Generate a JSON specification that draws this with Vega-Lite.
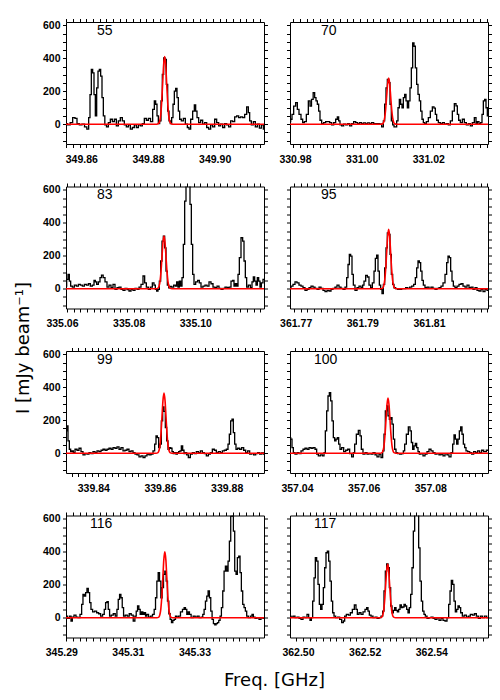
{
"$schema":"https://vega.github.io/schema/vega-lite/v6.json",
"background":"white",
"padding":{"left":13,"top":17,"right":5,"bottom":5},
"columns":2,
"spacing":{"row":42.5,"column":26},
"bounds":"flush",
"datasets":{
"obs":[
{"p":55,"f":349.8539,"v":4},{"p":55,"f":349.8548,"v":-4},{"p":55,"f":349.8555,"v":10},{"p":55,"f":349.8563,"v":40},{"p":55,"f":349.8569,"v":36},{"p":55,"f":349.8575,"v":4},{"p":55,"f":349.8583,"v":-4},{"p":55,"f":349.8591,"v":0},{"p":55,"f":349.8598,"v":-16},{"p":55,"f":349.8605,"v":-30},{"p":55,"f":349.8609,"v":40},{"p":55,"f":349.8613,"v":180},{"p":55,"f":349.8617,"v":332},{"p":55,"f":349.8621,"v":312},{"p":55,"f":349.8625,"v":180},{"p":55,"f":349.8629,"v":50},{"p":55,"f":349.8633,"v":221},{"p":55,"f":349.8637,"v":322},{"p":55,"f":349.8641,"v":332},{"p":55,"f":349.8645,"v":292},{"p":55,"f":349.8649,"v":161},{"p":55,"f":349.8653,"v":50},{"p":55,"f":349.8658,"v":-4},{"p":55,"f":349.8663,"v":-16},{"p":55,"f":349.8669,"v":10},{"p":55,"f":349.8675,"v":30},{"p":55,"f":349.8681,"v":16},{"p":55,"f":349.8687,"v":30},{"p":55,"f":349.8693,"v":-10},{"p":55,"f":349.8699,"v":20},{"p":55,"f":349.8705,"v":40},{"p":55,"f":349.8711,"v":20},{"p":55,"f":349.8717,"v":-4},{"p":55,"f":349.8723,"v":-16},{"p":55,"f":349.8729,"v":-4},{"p":55,"f":349.8735,"v":-30},{"p":55,"f":349.8741,"v":-20},{"p":55,"f":349.8747,"v":-4},{"p":55,"f":349.8753,"v":-20},{"p":55,"f":349.8759,"v":-4},{"p":55,"f":349.8765,"v":-10},{"p":55,"f":349.8771,"v":4},{"p":55,"f":349.8777,"v":36},{"p":55,"f":349.8783,"v":24},{"p":55,"f":349.8789,"v":36},{"p":55,"f":349.8796,"v":16},{"p":55,"f":349.8802,"v":90},{"p":55,"f":349.8806,"v":141},{"p":55,"f":349.881,"v":121},{"p":55,"f":349.8814,"v":50},{"p":55,"f":349.8818,"v":4},{"p":55,"f":349.8822,"v":20},{"p":55,"f":349.8826,"v":141},{"p":55,"f":349.883,"v":302},{"p":55,"f":349.8834,"v":403},{"p":55,"f":349.8838,"v":393},{"p":55,"f":349.8842,"v":242},{"p":55,"f":349.8846,"v":80},{"p":55,"f":349.885,"v":20},{"p":55,"f":349.8854,"v":4},{"p":55,"f":349.8858,"v":40},{"p":55,"f":349.8862,"v":121},{"p":55,"f":349.8866,"v":201},{"p":55,"f":349.887,"v":217},{"p":55,"f":349.8874,"v":161},{"p":55,"f":349.8878,"v":80},{"p":55,"f":349.8882,"v":30},{"p":55,"f":349.8888,"v":20},{"p":55,"f":349.8894,"v":36},{"p":55,"f":349.89,"v":0},{"p":55,"f":349.8906,"v":-20},{"p":55,"f":349.891,"v":-30},{"p":55,"f":349.8916,"v":30},{"p":55,"f":349.8922,"v":80},{"p":55,"f":349.8926,"v":117},{"p":55,"f":349.893,"v":80},{"p":55,"f":349.8934,"v":40},{"p":55,"f":349.894,"v":10},{"p":55,"f":349.8946,"v":24},{"p":55,"f":349.8952,"v":0},{"p":55,"f":349.8958,"v":10},{"p":55,"f":349.8964,"v":-20},{"p":55,"f":349.897,"v":-30},{"p":55,"f":349.8976,"v":-4},{"p":55,"f":349.8982,"v":-16},{"p":55,"f":349.8988,"v":30},{"p":55,"f":349.8994,"v":10},{"p":55,"f":349.9,"v":-10},{"p":55,"f":349.9006,"v":0},{"p":55,"f":349.9012,"v":-20},{"p":55,"f":349.9018,"v":4},{"p":55,"f":349.9024,"v":-4},{"p":55,"f":349.903,"v":-16},{"p":55,"f":349.9036,"v":20},{"p":55,"f":349.9042,"v":16},{"p":55,"f":349.9048,"v":44},{"p":55,"f":349.9054,"v":50},{"p":55,"f":349.906,"v":40},{"p":55,"f":349.9066,"v":44},{"p":55,"f":349.9072,"v":40},{"p":55,"f":349.9078,"v":60},{"p":55,"f":349.9084,"v":105},{"p":55,"f":349.9088,"v":70},{"p":55,"f":349.9092,"v":20},{"p":55,"f":349.9098,"v":-4},{"p":55,"f":349.9104,"v":16},{"p":55,"f":349.911,"v":-16},{"p":55,"f":349.9116,"v":0},{"p":55,"f":349.9122,"v":-24},{"p":55,"f":349.9128,"v":-4},{"p":55,"f":349.9134,"v":-30},
{"p":70,"f":330.977,"v":16},{"p":70,"f":330.9774,"v":30},{"p":70,"f":330.9778,"v":60},{"p":70,"f":330.9784,"v":110},{"p":70,"f":330.979,"v":131},{"p":70,"f":330.9794,"v":90},{"p":70,"f":330.98,"v":60},{"p":70,"f":330.9806,"v":30},{"p":70,"f":330.981,"v":10},{"p":70,"f":330.9816,"v":16},{"p":70,"f":330.9822,"v":60},{"p":70,"f":330.9828,"v":141},{"p":70,"f":330.9832,"v":110},{"p":70,"f":330.9837,"v":151},{"p":70,"f":330.9842,"v":191},{"p":70,"f":330.9846,"v":161},{"p":70,"f":330.985,"v":141},{"p":70,"f":330.9854,"v":121},{"p":70,"f":330.9858,"v":80},{"p":70,"f":330.9862,"v":24},{"p":70,"f":330.9868,"v":4},{"p":70,"f":330.9874,"v":10},{"p":70,"f":330.988,"v":16},{"p":70,"f":330.9886,"v":16},{"p":70,"f":330.9892,"v":10},{"p":70,"f":330.9898,"v":-4},{"p":70,"f":330.9904,"v":10},{"p":70,"f":330.991,"v":30},{"p":70,"f":330.9914,"v":44},{"p":70,"f":330.9918,"v":20},{"p":70,"f":330.9922,"v":-4},{"p":70,"f":330.9928,"v":-10},{"p":70,"f":330.9934,"v":0},{"p":70,"f":330.994,"v":-4},{"p":70,"f":330.9946,"v":4},{"p":70,"f":330.9952,"v":-10},{"p":70,"f":330.9958,"v":4},{"p":70,"f":330.9964,"v":16},{"p":70,"f":330.997,"v":10},{"p":70,"f":330.9976,"v":4},{"p":70,"f":330.9982,"v":10},{"p":70,"f":330.9988,"v":4},{"p":70,"f":330.9994,"v":8},{"p":70,"f":331.0,"v":4},{"p":70,"f":331.0006,"v":8},{"p":70,"f":331.0012,"v":4},{"p":70,"f":331.0018,"v":10},{"p":70,"f":331.0024,"v":4},{"p":70,"f":331.003,"v":4},{"p":70,"f":331.0036,"v":4},{"p":70,"f":331.0042,"v":0},{"p":70,"f":331.0048,"v":-16},{"p":70,"f":331.0052,"v":20},{"p":70,"f":331.0056,"v":121},{"p":70,"f":331.006,"v":221},{"p":70,"f":331.0064,"v":272},{"p":70,"f":331.0068,"v":252},{"p":70,"f":331.0072,"v":121},{"p":70,"f":331.0076,"v":20},{"p":70,"f":331.008,"v":-4},{"p":70,"f":331.0084,"v":-16},{"p":70,"f":331.0088,"v":-16},{"p":70,"f":331.0092,"v":20},{"p":70,"f":331.0096,"v":100},{"p":70,"f":331.01,"v":151},{"p":70,"f":331.0104,"v":121},{"p":70,"f":331.0108,"v":100},{"p":70,"f":331.0112,"v":161},{"p":70,"f":331.0116,"v":181},{"p":70,"f":331.012,"v":141},{"p":70,"f":331.0124,"v":100},{"p":70,"f":331.0128,"v":141},{"p":70,"f":331.0132,"v":221},{"p":70,"f":331.0136,"v":342},{"p":70,"f":331.014,"v":493},{"p":70,"f":331.0144,"v":473},{"p":70,"f":331.0148,"v":342},{"p":70,"f":331.0152,"v":242},{"p":70,"f":331.0156,"v":181},{"p":70,"f":331.016,"v":141},{"p":70,"f":331.0164,"v":80},{"p":70,"f":331.0168,"v":30},{"p":70,"f":331.0172,"v":10},{"p":70,"f":331.0176,"v":4},{"p":70,"f":331.0182,"v":16},{"p":70,"f":331.0188,"v":40},{"p":70,"f":331.0194,"v":80},{"p":70,"f":331.02,"v":105},{"p":70,"f":331.0204,"v":97},{"p":70,"f":331.0208,"v":60},{"p":70,"f":331.0212,"v":24},{"p":70,"f":331.0218,"v":10},{"p":70,"f":331.0224,"v":4},{"p":70,"f":331.023,"v":10},{"p":70,"f":331.0236,"v":0},{"p":70,"f":331.0242,"v":4},{"p":70,"f":331.0248,"v":-4},{"p":70,"f":331.0254,"v":20},{"p":70,"f":331.026,"v":80},{"p":70,"f":331.0266,"v":125},{"p":70,"f":331.027,"v":111},{"p":70,"f":331.0274,"v":60},{"p":70,"f":331.0278,"v":24},{"p":70,"f":331.0284,"v":10},{"p":70,"f":331.029,"v":30},{"p":70,"f":331.0296,"v":10},{"p":70,"f":331.0302,"v":-4},{"p":70,"f":331.0308,"v":4},{"p":70,"f":331.0314,"v":-10},{"p":70,"f":331.032,"v":10},{"p":70,"f":331.0326,"v":40},{"p":70,"f":331.033,"v":4},{"p":70,"f":331.0334,"v":16},{"p":70,"f":331.034,"v":4},{"p":70,"f":331.0344,"v":10},{"p":70,"f":331.0348,"v":60},{"p":70,"f":331.0352,"v":141},{"p":70,"f":331.0356,"v":151},{"p":70,"f":331.036,"v":100},{"p":70,"f":331.0364,"v":50},
{"p":83,"f":335.0597,"v":16},{"p":83,"f":335.0601,"v":57},{"p":83,"f":335.0605,"v":87},{"p":83,"f":335.0609,"v":46},{"p":83,"f":335.0613,"v":16},{"p":83,"f":335.0619,"v":10},{"p":83,"f":335.0625,"v":22},{"p":83,"f":335.0631,"v":16},{"p":83,"f":335.0637,"v":26},{"p":83,"f":335.0643,"v":22},{"p":83,"f":335.0649,"v":16},{"p":83,"f":335.0655,"v":26},{"p":83,"f":335.0661,"v":22},{"p":83,"f":335.0667,"v":30},{"p":83,"f":335.0673,"v":16},{"p":83,"f":335.0679,"v":22},{"p":83,"f":335.0683,"v":50},{"p":83,"f":335.0687,"v":42},{"p":83,"f":335.0691,"v":26},{"p":83,"f":335.0697,"v":42},{"p":83,"f":335.0701,"v":67},{"p":83,"f":335.0706,"v":83},{"p":83,"f":335.0711,"v":67},{"p":83,"f":335.0717,"v":42},{"p":83,"f":335.0723,"v":10},{"p":83,"f":335.0729,"v":22},{"p":83,"f":335.0735,"v":6},{"p":83,"f":335.0741,"v":26},{"p":83,"f":335.0747,"v":-4},{"p":83,"f":335.0753,"v":6},{"p":83,"f":335.0759,"v":10},{"p":83,"f":335.0765,"v":-4},{"p":83,"f":335.0771,"v":-10},{"p":83,"f":335.0777,"v":2},{"p":83,"f":335.0783,"v":-6},{"p":83,"f":335.0789,"v":-14},{"p":83,"f":335.0795,"v":-4},{"p":83,"f":335.0801,"v":-10},{"p":83,"f":335.0807,"v":2},{"p":83,"f":335.0813,"v":-4},{"p":83,"f":335.0819,"v":10},{"p":83,"f":335.0825,"v":26},{"p":83,"f":335.0831,"v":77},{"p":83,"f":335.0835,"v":36},{"p":83,"f":335.0841,"v":10},{"p":83,"f":335.0847,"v":-4},{"p":83,"f":335.0853,"v":10},{"p":83,"f":335.0859,"v":36},{"p":83,"f":335.0863,"v":22},{"p":83,"f":335.0867,"v":-4},{"p":83,"f":335.0871,"v":-14},{"p":83,"f":335.0875,"v":-4},{"p":83,"f":335.0879,"v":46},{"p":83,"f":335.0883,"v":168},{"p":83,"f":335.0887,"v":289},{"p":83,"f":335.0891,"v":319},{"p":83,"f":335.0895,"v":248},{"p":83,"f":335.0899,"v":107},{"p":83,"f":335.0903,"v":22},{"p":83,"f":335.0907,"v":6},{"p":83,"f":335.0911,"v":14},{"p":83,"f":335.0917,"v":10},{"p":83,"f":335.0923,"v":22},{"p":83,"f":335.0927,"v":16},{"p":83,"f":335.0931,"v":42},{"p":83,"f":335.0935,"v":10},{"p":83,"f":335.0939,"v":46},{"p":83,"f":335.0943,"v":16},{"p":83,"f":335.0947,"v":67},{"p":83,"f":335.0951,"v":269},{"p":83,"f":335.0955,"v":531},{"p":83,"f":335.0959,"v":900},{"p":83,"f":335.0963,"v":900},{"p":83,"f":335.0967,"v":900},{"p":83,"f":335.0971,"v":511},{"p":83,"f":335.0975,"v":269},{"p":83,"f":335.0979,"v":87},{"p":83,"f":335.0983,"v":26},{"p":83,"f":335.0989,"v":42},{"p":83,"f":335.0995,"v":50},{"p":83,"f":335.0999,"v":36},{"p":83,"f":335.1005,"v":10},{"p":83,"f":335.1011,"v":16},{"p":83,"f":335.1017,"v":22},{"p":83,"f":335.1023,"v":16},{"p":83,"f":335.1029,"v":42},{"p":83,"f":335.1035,"v":30},{"p":83,"f":335.1041,"v":10},{"p":83,"f":335.1047,"v":6},{"p":83,"f":335.1053,"v":16},{"p":83,"f":335.1059,"v":2},{"p":83,"f":335.1065,"v":-4},{"p":83,"f":335.1071,"v":2},{"p":83,"f":335.1077,"v":10},{"p":83,"f":335.1083,"v":6},{"p":83,"f":335.1089,"v":10},{"p":83,"f":335.1095,"v":46},{"p":83,"f":335.1099,"v":50},{"p":83,"f":335.1103,"v":16},{"p":83,"f":335.1107,"v":30},{"p":83,"f":335.1111,"v":16},{"p":83,"f":335.1115,"v":87},{"p":83,"f":335.1119,"v":188},{"p":83,"f":335.1125,"v":309},{"p":83,"f":335.1129,"v":289},{"p":83,"f":335.1133,"v":168},{"p":83,"f":335.1137,"v":67},{"p":83,"f":335.1141,"v":10},{"p":83,"f":335.1147,"v":22},{"p":83,"f":335.1153,"v":6},{"p":83,"f":335.1157,"v":42},{"p":83,"f":335.1161,"v":71},{"p":83,"f":335.1165,"v":46},{"p":83,"f":335.1169,"v":22},{"p":83,"f":335.1173,"v":67},{"p":83,"f":335.1177,"v":46},{"p":83,"f":335.1181,"v":10},{"p":83,"f":335.1185,"v":36},{"p":83,"f":335.1191,"v":57},
{"p":95,"f":361.7668,"v":6},{"p":95,"f":361.7674,"v":16},{"p":95,"f":361.768,"v":26},{"p":95,"f":361.7686,"v":42},{"p":95,"f":361.7692,"v":36},{"p":95,"f":361.7698,"v":22},{"p":95,"f":361.7704,"v":16},{"p":95,"f":361.771,"v":6},{"p":95,"f":361.7716,"v":-10},{"p":95,"f":361.7722,"v":-4},{"p":95,"f":361.7728,"v":6},{"p":95,"f":361.7734,"v":16},{"p":95,"f":361.774,"v":10},{"p":95,"f":361.7746,"v":2},{"p":95,"f":361.7752,"v":-4},{"p":95,"f":361.7758,"v":10},{"p":95,"f":361.7764,"v":2},{"p":95,"f":361.777,"v":-10},{"p":95,"f":361.7776,"v":-18},{"p":95,"f":361.7782,"v":-10},{"p":95,"f":361.7788,"v":-14},{"p":95,"f":361.7794,"v":-4},{"p":95,"f":361.78,"v":2},{"p":95,"f":361.7806,"v":10},{"p":95,"f":361.7812,"v":22},{"p":95,"f":361.7818,"v":10},{"p":95,"f":361.7824,"v":2},{"p":95,"f":361.783,"v":-4},{"p":95,"f":361.7836,"v":10},{"p":95,"f":361.784,"v":67},{"p":95,"f":361.7844,"v":147},{"p":95,"f":361.7848,"v":208},{"p":95,"f":361.7852,"v":198},{"p":95,"f":361.7856,"v":87},{"p":95,"f":361.786,"v":22},{"p":95,"f":361.7866,"v":-10},{"p":95,"f":361.7872,"v":6},{"p":95,"f":361.7878,"v":16},{"p":95,"f":361.7884,"v":6},{"p":95,"f":361.7888,"v":22},{"p":95,"f":361.7892,"v":46},{"p":95,"f":361.7898,"v":81},{"p":95,"f":361.7902,"v":71},{"p":95,"f":361.7908,"v":22},{"p":95,"f":361.7912,"v":6},{"p":95,"f":361.7918,"v":36},{"p":95,"f":361.7922,"v":107},{"p":95,"f":361.7926,"v":184},{"p":95,"f":361.793,"v":204},{"p":95,"f":361.7934,"v":107},{"p":95,"f":361.7938,"v":22},{"p":95,"f":361.7942,"v":-4},{"p":95,"f":361.7946,"v":-30},{"p":95,"f":361.795,"v":26},{"p":95,"f":361.7954,"v":127},{"p":95,"f":361.7958,"v":248},{"p":95,"f":361.7962,"v":339},{"p":95,"f":361.7966,"v":329},{"p":95,"f":361.797,"v":208},{"p":95,"f":361.7974,"v":87},{"p":95,"f":361.7978,"v":26},{"p":95,"f":361.7982,"v":6},{"p":95,"f":361.7988,"v":0},{"p":95,"f":361.7994,"v":-4},{"p":95,"f":361.8,"v":-4},{"p":95,"f":361.8006,"v":0},{"p":95,"f":361.8012,"v":0},{"p":95,"f":361.8018,"v":6},{"p":95,"f":361.8024,"v":2},{"p":95,"f":361.803,"v":10},{"p":95,"f":361.8036,"v":16},{"p":95,"f":361.8042,"v":26},{"p":95,"f":361.8046,"v":67},{"p":95,"f":361.805,"v":127},{"p":95,"f":361.8054,"v":168},{"p":95,"f":361.8058,"v":158},{"p":95,"f":361.8062,"v":107},{"p":95,"f":361.8066,"v":50},{"p":95,"f":361.807,"v":22},{"p":95,"f":361.8076,"v":6},{"p":95,"f":361.8082,"v":10},{"p":95,"f":361.8088,"v":2},{"p":95,"f":361.8094,"v":10},{"p":95,"f":361.81,"v":2},{"p":95,"f":361.8106,"v":-4},{"p":95,"f":361.8112,"v":2},{"p":95,"f":361.8118,"v":6},{"p":95,"f":361.8124,"v":16},{"p":95,"f":361.813,"v":36},{"p":95,"f":361.8136,"v":87},{"p":95,"f":361.814,"v":158},{"p":95,"f":361.8144,"v":198},{"p":95,"f":361.8148,"v":188},{"p":95,"f":361.8152,"v":107},{"p":95,"f":361.8156,"v":46},{"p":95,"f":361.816,"v":16},{"p":95,"f":361.8166,"v":6},{"p":95,"f":361.8172,"v":16},{"p":95,"f":361.8178,"v":26},{"p":95,"f":361.8184,"v":30},{"p":95,"f":361.819,"v":16},{"p":95,"f":361.8196,"v":10},{"p":95,"f":361.8202,"v":22},{"p":95,"f":361.8208,"v":6},{"p":95,"f":361.8214,"v":10},{"p":95,"f":361.822,"v":-4},{"p":95,"f":361.8226,"v":6},{"p":95,"f":361.8232,"v":-10},{"p":95,"f":361.8238,"v":-14},{"p":95,"f":361.8244,"v":-4},{"p":95,"f":361.825,"v":-18},{"p":95,"f":361.8256,"v":-4},{"p":95,"f":361.8262,"v":-10},
{"p":99,"f":339.8303,"v":135},{"p":99,"f":339.8307,"v":166},{"p":99,"f":339.8311,"v":75},{"p":99,"f":339.8315,"v":24},{"p":99,"f":339.8319,"v":10},{"p":99,"f":339.8323,"v":14},{"p":99,"f":339.8327,"v":4},{"p":99,"f":339.8333,"v":24},{"p":99,"f":339.8339,"v":18},{"p":99,"f":339.8345,"v":30},{"p":99,"f":339.8351,"v":10},{"p":99,"f":339.8357,"v":-10},{"p":99,"f":339.8363,"v":-2},{"p":99,"f":339.8369,"v":-6},{"p":99,"f":339.8375,"v":4},{"p":99,"f":339.8381,"v":-2},{"p":99,"f":339.8387,"v":10},{"p":99,"f":339.8393,"v":4},{"p":99,"f":339.8399,"v":14},{"p":99,"f":339.8405,"v":10},{"p":99,"f":339.8411,"v":18},{"p":99,"f":339.8417,"v":24},{"p":99,"f":339.8423,"v":18},{"p":99,"f":339.8429,"v":24},{"p":99,"f":339.8435,"v":30},{"p":99,"f":339.8441,"v":24},{"p":99,"f":339.8447,"v":34},{"p":99,"f":339.8453,"v":30},{"p":99,"f":339.8459,"v":38},{"p":99,"f":339.8465,"v":24},{"p":99,"f":339.8471,"v":34},{"p":99,"f":339.8477,"v":14},{"p":99,"f":339.8483,"v":18},{"p":99,"f":339.8489,"v":24},{"p":99,"f":339.8495,"v":10},{"p":99,"f":339.8501,"v":14},{"p":99,"f":339.8507,"v":4},{"p":99,"f":339.8513,"v":-6},{"p":99,"f":339.8519,"v":-10},{"p":99,"f":339.8525,"v":-22},{"p":99,"f":339.8531,"v":-16},{"p":99,"f":339.8537,"v":-26},{"p":99,"f":339.8543,"v":-16},{"p":99,"f":339.8549,"v":-6},{"p":99,"f":339.8555,"v":-10},{"p":99,"f":339.8561,"v":-6},{"p":99,"f":339.8567,"v":14},{"p":99,"f":339.8571,"v":55},{"p":99,"f":339.8575,"v":105},{"p":99,"f":339.8579,"v":95},{"p":99,"f":339.8583,"v":34},{"p":99,"f":339.8587,"v":55},{"p":99,"f":339.8591,"v":196},{"p":99,"f":339.8595,"v":281},{"p":99,"f":339.8599,"v":254},{"p":99,"f":339.8603,"v":156},{"p":99,"f":339.8607,"v":75},{"p":99,"f":339.8611,"v":24},{"p":99,"f":339.8615,"v":34},{"p":99,"f":339.8619,"v":30},{"p":99,"f":339.8623,"v":10},{"p":99,"f":339.8627,"v":-2},{"p":99,"f":339.8631,"v":4},{"p":99,"f":339.8635,"v":-6},{"p":99,"f":339.8639,"v":4},{"p":99,"f":339.8643,"v":10},{"p":99,"f":339.8647,"v":14},{"p":99,"f":339.8651,"v":44},{"p":99,"f":339.8655,"v":18},{"p":99,"f":339.8659,"v":-2},{"p":99,"f":339.8663,"v":4},{"p":99,"f":339.8667,"v":-10},{"p":99,"f":339.8673,"v":-26},{"p":99,"f":339.8679,"v":-6},{"p":99,"f":339.8685,"v":4},{"p":99,"f":339.8691,"v":-2},{"p":99,"f":339.8697,"v":10},{"p":99,"f":339.8703,"v":4},{"p":99,"f":339.8709,"v":14},{"p":99,"f":339.8715,"v":4},{"p":99,"f":339.8721,"v":-2},{"p":99,"f":339.8727,"v":-16},{"p":99,"f":339.8733,"v":-6},{"p":99,"f":339.8739,"v":4},{"p":99,"f":339.8745,"v":24},{"p":99,"f":339.8751,"v":18},{"p":99,"f":339.8757,"v":4},{"p":99,"f":339.8763,"v":10},{"p":99,"f":339.8769,"v":4},{"p":99,"f":339.8775,"v":14},{"p":99,"f":339.8781,"v":18},{"p":99,"f":339.8787,"v":24},{"p":99,"f":339.8791,"v":55},{"p":99,"f":339.8795,"v":115},{"p":99,"f":339.8799,"v":196},{"p":99,"f":339.8803,"v":206},{"p":99,"f":339.8807,"v":125},{"p":99,"f":339.8811,"v":55},{"p":99,"f":339.8815,"v":24},{"p":99,"f":339.8821,"v":30},{"p":99,"f":339.8827,"v":24},{"p":99,"f":339.8833,"v":34},{"p":99,"f":339.8839,"v":18},{"p":99,"f":339.8845,"v":4},{"p":99,"f":339.8851,"v":14},{"p":99,"f":339.8857,"v":-6},{"p":99,"f":339.8863,"v":-2},{"p":99,"f":339.8869,"v":-10},{"p":99,"f":339.8875,"v":-2},{"p":99,"f":339.8881,"v":4},{"p":99,"f":339.8887,"v":-6},{"p":99,"f":339.8893,"v":2},{"p":99,"f":339.8897,"v":-6},
{"p":100,"f":357.0364,"v":95},{"p":100,"f":357.0368,"v":85},{"p":100,"f":357.0372,"v":34},{"p":100,"f":357.0376,"v":4},{"p":100,"f":357.0382,"v":-6},{"p":100,"f":357.0388,"v":4},{"p":100,"f":357.0394,"v":-2},{"p":100,"f":357.04,"v":14},{"p":100,"f":357.0406,"v":24},{"p":100,"f":357.0412,"v":30},{"p":100,"f":357.0418,"v":24},{"p":100,"f":357.0424,"v":34},{"p":100,"f":357.043,"v":30},{"p":100,"f":357.0436,"v":34},{"p":100,"f":357.0442,"v":24},{"p":100,"f":357.0446,"v":-6},{"p":100,"f":357.0452,"v":-16},{"p":100,"f":357.0458,"v":-10},{"p":100,"f":357.0464,"v":-16},{"p":100,"f":357.0468,"v":4},{"p":100,"f":357.0472,"v":135},{"p":100,"f":357.0476,"v":257},{"p":100,"f":357.048,"v":347},{"p":100,"f":357.0484,"v":368},{"p":100,"f":357.0488,"v":317},{"p":100,"f":357.0492,"v":196},{"p":100,"f":357.0496,"v":95},{"p":100,"f":357.05,"v":75},{"p":100,"f":357.0504,"v":85},{"p":100,"f":357.0508,"v":95},{"p":100,"f":357.0512,"v":55},{"p":100,"f":357.0516,"v":24},{"p":100,"f":357.0522,"v":34},{"p":100,"f":357.0528,"v":10},{"p":100,"f":357.0534,"v":18},{"p":100,"f":357.054,"v":24},{"p":100,"f":357.0546,"v":-2},{"p":100,"f":357.0552,"v":-22},{"p":100,"f":357.0556,"v":4},{"p":100,"f":357.056,"v":55},{"p":100,"f":357.0566,"v":115},{"p":100,"f":357.0572,"v":139},{"p":100,"f":357.0576,"v":105},{"p":100,"f":357.058,"v":24},{"p":100,"f":357.0586,"v":-6},{"p":100,"f":357.0592,"v":4},{"p":100,"f":357.0598,"v":-6},{"p":100,"f":357.0604,"v":-2},{"p":100,"f":357.061,"v":-6},{"p":100,"f":357.0616,"v":4},{"p":100,"f":357.0622,"v":-10},{"p":100,"f":357.0628,"v":-22},{"p":100,"f":357.0634,"v":-6},{"p":100,"f":357.064,"v":-26},{"p":100,"f":357.0644,"v":14},{"p":100,"f":357.0648,"v":115},{"p":100,"f":357.0652,"v":257},{"p":100,"f":357.0656,"v":287},{"p":100,"f":357.066,"v":226},{"p":100,"f":357.0664,"v":206},{"p":100,"f":357.0668,"v":216},{"p":100,"f":357.0672,"v":176},{"p":100,"f":357.0676,"v":85},{"p":100,"f":357.068,"v":24},{"p":100,"f":357.0684,"v":4},{"p":100,"f":357.069,"v":-2},{"p":100,"f":357.0696,"v":-6},{"p":100,"f":357.0702,"v":-2},{"p":100,"f":357.0706,"v":14},{"p":100,"f":357.071,"v":55},{"p":100,"f":357.0716,"v":115},{"p":100,"f":357.0722,"v":160},{"p":100,"f":357.0726,"v":135},{"p":100,"f":357.073,"v":65},{"p":100,"f":357.0734,"v":24},{"p":100,"f":357.0738,"v":44},{"p":100,"f":357.0742,"v":59},{"p":100,"f":357.0746,"v":34},{"p":100,"f":357.075,"v":10},{"p":100,"f":357.0754,"v":-6},{"p":100,"f":357.076,"v":-2},{"p":100,"f":357.0766,"v":-16},{"p":100,"f":357.0772,"v":-6},{"p":100,"f":357.0778,"v":10},{"p":100,"f":357.0784,"v":24},{"p":100,"f":357.079,"v":14},{"p":100,"f":357.0796,"v":4},{"p":100,"f":357.0802,"v":-6},{"p":100,"f":357.0808,"v":-2},{"p":100,"f":357.0814,"v":-10},{"p":100,"f":357.082,"v":-6},{"p":100,"f":357.0826,"v":-16},{"p":100,"f":357.0832,"v":-2},{"p":100,"f":357.0838,"v":-10},{"p":100,"f":357.0844,"v":-22},{"p":100,"f":357.085,"v":4},{"p":100,"f":357.0854,"v":55},{"p":100,"f":357.0858,"v":111},{"p":100,"f":357.0862,"v":85},{"p":100,"f":357.0866,"v":55},{"p":100,"f":357.087,"v":85},{"p":100,"f":357.0874,"v":135},{"p":100,"f":357.0878,"v":160},{"p":100,"f":357.0882,"v":115},{"p":100,"f":357.0886,"v":55},{"p":100,"f":357.089,"v":34},{"p":100,"f":357.0894,"v":14},{"p":100,"f":357.09,"v":10},{"p":100,"f":357.0906,"v":4},{"p":100,"f":357.0912,"v":-6},{"p":100,"f":357.0918,"v":10},{"p":100,"f":357.0924,"v":4},{"p":100,"f":357.093,"v":14},{"p":100,"f":357.0936,"v":4},{"p":100,"f":357.0942,"v":18},{"p":100,"f":357.0948,"v":10},{"p":100,"f":357.0958,"v":18},
{"p":116,"f":345.29,"v":10},{"p":116,"f":345.2906,"v":-4},{"p":116,"f":345.2912,"v":10},{"p":116,"f":345.2916,"v":-20},{"p":116,"f":345.292,"v":4},{"p":116,"f":345.2926,"v":16},{"p":116,"f":345.2932,"v":4},{"p":116,"f":345.2938,"v":0},{"p":116,"f":345.2944,"v":20},{"p":116,"f":345.2948,"v":81},{"p":116,"f":345.2952,"v":141},{"p":116,"f":345.2956,"v":131},{"p":116,"f":345.296,"v":152},{"p":116,"f":345.2964,"v":178},{"p":116,"f":345.2968,"v":152},{"p":116,"f":345.2972,"v":91},{"p":116,"f":345.2976,"v":50},{"p":116,"f":345.2982,"v":36},{"p":116,"f":345.2988,"v":40},{"p":116,"f":345.2994,"v":30},{"p":116,"f":345.3,"v":24},{"p":116,"f":345.3006,"v":10},{"p":116,"f":345.3012,"v":20},{"p":116,"f":345.3016,"v":50},{"p":116,"f":345.302,"v":91},{"p":116,"f":345.3024,"v":97},{"p":116,"f":345.3028,"v":50},{"p":116,"f":345.3032,"v":10},{"p":116,"f":345.3038,"v":16},{"p":116,"f":345.3044,"v":24},{"p":116,"f":345.305,"v":10},{"p":116,"f":345.3054,"v":50},{"p":116,"f":345.3058,"v":111},{"p":116,"f":345.3062,"v":141},{"p":116,"f":345.3066,"v":121},{"p":116,"f":345.307,"v":61},{"p":116,"f":345.3074,"v":10},{"p":116,"f":345.308,"v":16},{"p":116,"f":345.3086,"v":10},{"p":116,"f":345.3092,"v":24},{"p":116,"f":345.3098,"v":16},{"p":116,"f":345.3104,"v":-20},{"p":116,"f":345.3108,"v":10},{"p":116,"f":345.3112,"v":40},{"p":116,"f":345.3116,"v":71},{"p":116,"f":345.312,"v":50},{"p":116,"f":345.3124,"v":20},{"p":116,"f":345.3128,"v":36},{"p":116,"f":345.3132,"v":20},{"p":116,"f":345.3136,"v":30},{"p":116,"f":345.314,"v":10},{"p":116,"f":345.3144,"v":20},{"p":116,"f":345.315,"v":4},{"p":116,"f":345.3156,"v":10},{"p":116,"f":345.3162,"v":20},{"p":116,"f":345.3166,"v":50},{"p":116,"f":345.317,"v":121},{"p":116,"f":345.3174,"v":222},{"p":116,"f":345.3178,"v":273},{"p":116,"f":345.3182,"v":222},{"p":116,"f":345.3186,"v":121},{"p":116,"f":345.319,"v":182},{"p":116,"f":345.3194,"v":263},{"p":116,"f":345.3198,"v":283},{"p":116,"f":345.3202,"v":222},{"p":116,"f":345.3206,"v":101},{"p":116,"f":345.321,"v":24},{"p":116,"f":345.3214,"v":-10},{"p":116,"f":345.3218,"v":-30},{"p":116,"f":345.3222,"v":-16},{"p":116,"f":345.3226,"v":-10},{"p":116,"f":345.323,"v":10},{"p":116,"f":345.3234,"v":4},{"p":116,"f":345.324,"v":10},{"p":116,"f":345.3246,"v":36},{"p":116,"f":345.3252,"v":50},{"p":116,"f":345.3256,"v":61},{"p":116,"f":345.326,"v":50},{"p":116,"f":345.3264,"v":20},{"p":116,"f":345.3268,"v":36},{"p":116,"f":345.3272,"v":20},{"p":116,"f":345.3278,"v":0},{"p":116,"f":345.3284,"v":10},{"p":116,"f":345.329,"v":4},{"p":116,"f":345.3296,"v":10},{"p":116,"f":345.3302,"v":0},{"p":116,"f":345.3308,"v":4},{"p":116,"f":345.3312,"v":20},{"p":116,"f":345.3316,"v":50},{"p":116,"f":345.332,"v":101},{"p":116,"f":345.3324,"v":131},{"p":116,"f":345.3328,"v":162},{"p":116,"f":345.3332,"v":121},{"p":116,"f":345.3336,"v":40},{"p":116,"f":345.334,"v":-10},{"p":116,"f":345.3344,"v":-36},{"p":116,"f":345.3348,"v":-44},{"p":116,"f":345.3352,"v":-36},{"p":116,"f":345.3356,"v":-30},{"p":116,"f":345.336,"v":-16},{"p":116,"f":345.3364,"v":10},{"p":116,"f":345.3368,"v":61},{"p":116,"f":345.3372,"v":162},{"p":116,"f":345.3376,"v":283},{"p":116,"f":345.338,"v":313},{"p":116,"f":345.3384,"v":283},{"p":116,"f":345.3388,"v":343},{"p":116,"f":345.3392,"v":465},{"p":116,"f":345.3396,"v":616},{"p":116,"f":345.34,"v":640},{"p":116,"f":345.3404,"v":525},{"p":116,"f":345.3408,"v":283},{"p":116,"f":345.3412,"v":263},{"p":116,"f":345.3416,"v":364},{"p":116,"f":345.342,"v":374},{"p":116,"f":345.3424,"v":273},{"p":116,"f":345.3428,"v":162},{"p":116,"f":345.3432,"v":81},{"p":116,"f":345.3436,"v":61},{"p":116,"f":345.344,"v":40},{"p":116,"f":345.3444,"v":10},{"p":116,"f":345.345,"v":0},{"p":116,"f":345.3456,"v":10},{"p":116,"f":345.346,"v":20},{"p":116,"f":345.3464,"v":4},{"p":116,"f":345.347,"v":-4},{"p":116,"f":345.3476,"v":0},{"p":116,"f":345.3482,"v":-10},{"p":116,"f":345.3488,"v":0},{"p":116,"f":345.3494,"v":-4},
{"p":117,"f":362.4961,"v":10},{"p":117,"f":362.4967,"v":4},{"p":117,"f":362.4973,"v":10},{"p":117,"f":362.4979,"v":0},{"p":117,"f":362.4985,"v":4},{"p":117,"f":362.4991,"v":-4},{"p":117,"f":362.4997,"v":-10},{"p":117,"f":362.5003,"v":4},{"p":117,"f":362.5009,"v":0},{"p":117,"f":362.5015,"v":20},{"p":117,"f":362.5019,"v":0},{"p":117,"f":362.5023,"v":-16},{"p":117,"f":362.5027,"v":0},{"p":117,"f":362.5031,"v":101},{"p":117,"f":362.5035,"v":242},{"p":117,"f":362.5039,"v":364},{"p":117,"f":362.5043,"v":343},{"p":117,"f":362.5047,"v":202},{"p":117,"f":362.5051,"v":81},{"p":117,"f":362.5055,"v":50},{"p":117,"f":362.5059,"v":81},{"p":117,"f":362.5063,"v":182},{"p":117,"f":362.5067,"v":303},{"p":117,"f":362.5071,"v":394},{"p":117,"f":362.5075,"v":404},{"p":117,"f":362.5079,"v":343},{"p":117,"f":362.5083,"v":222},{"p":117,"f":362.5087,"v":101},{"p":117,"f":362.5091,"v":30},{"p":117,"f":362.5095,"v":10},{"p":117,"f":362.5101,"v":0},{"p":117,"f":362.5107,"v":4},{"p":117,"f":362.5113,"v":-10},{"p":117,"f":362.5119,"v":-30},{"p":117,"f":362.5123,"v":-20},{"p":117,"f":362.5127,"v":10},{"p":117,"f":362.5133,"v":20},{"p":117,"f":362.5139,"v":16},{"p":117,"f":362.5145,"v":30},{"p":117,"f":362.5151,"v":50},{"p":117,"f":362.5157,"v":77},{"p":117,"f":362.5161,"v":50},{"p":117,"f":362.5165,"v":20},{"p":117,"f":362.5171,"v":30},{"p":117,"f":362.5177,"v":20},{"p":117,"f":362.5183,"v":36},{"p":117,"f":362.5189,"v":50},{"p":117,"f":362.5193,"v":61},{"p":117,"f":362.5197,"v":40},{"p":117,"f":362.5201,"v":16},{"p":117,"f":362.5207,"v":10},{"p":117,"f":362.5213,"v":0},{"p":117,"f":362.5219,"v":4},{"p":117,"f":362.5225,"v":-4},{"p":117,"f":362.5231,"v":0},{"p":117,"f":362.5237,"v":10},{"p":117,"f":362.5241,"v":40},{"p":117,"f":362.5245,"v":162},{"p":117,"f":362.5249,"v":283},{"p":117,"f":362.5253,"v":327},{"p":117,"f":362.5257,"v":303},{"p":117,"f":362.5261,"v":182},{"p":117,"f":362.5265,"v":71},{"p":117,"f":362.5269,"v":30},{"p":117,"f":362.5273,"v":44},{"p":117,"f":362.5277,"v":61},{"p":117,"f":362.5281,"v":44},{"p":117,"f":362.5285,"v":36},{"p":117,"f":362.5289,"v":50},{"p":117,"f":362.5293,"v":77},{"p":117,"f":362.5297,"v":61},{"p":117,"f":362.5301,"v":65},{"p":117,"f":362.5305,"v":81},{"p":117,"f":362.5309,"v":71},{"p":117,"f":362.5313,"v":50},{"p":117,"f":362.5317,"v":30},{"p":117,"f":362.5321,"v":61},{"p":117,"f":362.5325,"v":141},{"p":117,"f":362.5329,"v":303},{"p":117,"f":362.5333,"v":525},{"p":117,"f":362.5337,"v":900},{"p":117,"f":362.5341,"v":900},{"p":117,"f":362.5345,"v":900},{"p":117,"f":362.5349,"v":424},{"p":117,"f":362.5353,"v":222},{"p":117,"f":362.5357,"v":101},{"p":117,"f":362.5361,"v":40},{"p":117,"f":362.5365,"v":20},{"p":117,"f":362.5369,"v":10},{"p":117,"f":362.5375,"v":-4},{"p":117,"f":362.5381,"v":0},{"p":117,"f":362.5387,"v":4},{"p":117,"f":362.5393,"v":-4},{"p":117,"f":362.5399,"v":-10},{"p":117,"f":362.5405,"v":0},{"p":117,"f":362.5411,"v":-16},{"p":117,"f":362.5417,"v":-4},{"p":117,"f":362.5423,"v":-16},{"p":117,"f":362.5429,"v":-20},{"p":117,"f":362.5435,"v":0},{"p":117,"f":362.5439,"v":81},{"p":117,"f":362.5443,"v":162},{"p":117,"f":362.5447,"v":226},{"p":117,"f":362.5451,"v":202},{"p":117,"f":362.5455,"v":101},{"p":117,"f":362.5459,"v":36},{"p":117,"f":362.5463,"v":50},{"p":117,"f":362.5467,"v":71},{"p":117,"f":362.5471,"v":61},{"p":117,"f":362.5475,"v":30},{"p":117,"f":362.5481,"v":10},{"p":117,"f":362.5487,"v":16},{"p":117,"f":362.5493,"v":4},{"p":117,"f":362.5499,"v":10},{"p":117,"f":362.5505,"v":20},{"p":117,"f":362.5511,"v":16},{"p":117,"f":362.5517,"v":24},{"p":117,"f":362.5523,"v":10},{"p":117,"f":362.5529,"v":-4},{"p":117,"f":362.5535,"v":10},{"p":117,"f":362.5541,"v":0},{"p":117,"f":362.5547,"v":10},{"p":117,"f":362.5555,"v":0}
],
"fit":[
{"p":55,"f":349.8539,"v":0},{"p":55,"f":349.8811,"v":0},{"p":55,"f":349.8817,"v":5},{"p":55,"f":349.882,"v":18},{"p":55,"f":349.8823,"v":55},{"p":55,"f":349.8826,"v":133},{"p":55,"f":349.8829,"v":249},{"p":55,"f":349.8832,"v":362},{"p":55,"f":349.8835,"v":410},{"p":55,"f":349.8838,"v":362},{"p":55,"f":349.8841,"v":249},{"p":55,"f":349.8844,"v":133},{"p":55,"f":349.8847,"v":55},{"p":55,"f":349.885,"v":18},{"p":55,"f":349.8853,"v":5},{"p":55,"f":349.8859,"v":0},{"p":55,"f":349.9134,"v":0},
{"p":70,"f":330.977,"v":0},{"p":70,"f":331.0042,"v":0},{"p":70,"f":331.0048,"v":3},{"p":70,"f":331.0051,"v":12},{"p":70,"f":331.0054,"v":38},{"p":70,"f":331.0057,"v":91},{"p":70,"f":331.006,"v":170},{"p":70,"f":331.0063,"v":247},{"p":70,"f":331.0066,"v":280},{"p":70,"f":331.0069,"v":247},{"p":70,"f":331.0072,"v":170},{"p":70,"f":331.0075,"v":91},{"p":70,"f":331.0078,"v":38},{"p":70,"f":331.0081,"v":12},{"p":70,"f":331.0084,"v":3},{"p":70,"f":331.009,"v":0},{"p":70,"f":331.0364,"v":0},
{"p":83,"f":335.0597,"v":0},{"p":83,"f":335.0867,"v":0},{"p":83,"f":335.0873,"v":4},{"p":83,"f":335.0876,"v":14},{"p":83,"f":335.0879,"v":43},{"p":83,"f":335.0882,"v":104},{"p":83,"f":335.0885,"v":194},{"p":83,"f":335.0888,"v":282},{"p":83,"f":335.0891,"v":320},{"p":83,"f":335.0894,"v":282},{"p":83,"f":335.0897,"v":194},{"p":83,"f":335.09,"v":104},{"p":83,"f":335.0903,"v":43},{"p":83,"f":335.0906,"v":14},{"p":83,"f":335.0909,"v":4},{"p":83,"f":335.0915,"v":0},{"p":83,"f":335.1191,"v":0},
{"p":95,"f":361.7668,"v":0},{"p":95,"f":361.794,"v":0},{"p":95,"f":361.7946,"v":4},{"p":95,"f":361.7949,"v":16},{"p":95,"f":361.7952,"v":49},{"p":95,"f":361.7955,"v":117},{"p":95,"f":361.7958,"v":219},{"p":95,"f":361.7961,"v":318},{"p":95,"f":361.7964,"v":360},{"p":95,"f":361.7967,"v":318},{"p":95,"f":361.797,"v":219},{"p":95,"f":361.7973,"v":117},{"p":95,"f":361.7976,"v":49},{"p":95,"f":361.7979,"v":16},{"p":95,"f":361.7982,"v":4},{"p":95,"f":361.7988,"v":0},{"p":95,"f":361.8262,"v":0},
{"p":99,"f":339.8303,"v":0},{"p":99,"f":339.8573,"v":0},{"p":99,"f":339.8579,"v":4},{"p":99,"f":339.8582,"v":16},{"p":99,"f":339.8585,"v":49},{"p":99,"f":339.8588,"v":119},{"p":99,"f":339.8591,"v":222},{"p":99,"f":339.8594,"v":322},{"p":99,"f":339.8597,"v":365},{"p":99,"f":339.86,"v":322},{"p":99,"f":339.8603,"v":222},{"p":99,"f":339.8606,"v":119},{"p":99,"f":339.8609,"v":49},{"p":99,"f":339.8612,"v":16},{"p":99,"f":339.8615,"v":4},{"p":99,"f":339.8621,"v":0},{"p":99,"f":339.8897,"v":0},
{"p":100,"f":357.0364,"v":0},{"p":100,"f":357.0634,"v":0},{"p":100,"f":357.064,"v":4},{"p":100,"f":357.0643,"v":15},{"p":100,"f":357.0646,"v":45},{"p":100,"f":357.0649,"v":109},{"p":100,"f":357.0652,"v":203},{"p":100,"f":357.0655,"v":295},{"p":100,"f":357.0658,"v":335},{"p":100,"f":357.0661,"v":295},{"p":100,"f":357.0664,"v":203},{"p":100,"f":357.0667,"v":109},{"p":100,"f":357.067,"v":45},{"p":100,"f":357.0673,"v":15},{"p":100,"f":357.0676,"v":4},{"p":100,"f":357.0682,"v":0},{"p":100,"f":357.0958,"v":0},
{"p":116,"f":345.2899,"v":0},{"p":116,"f":345.3172,"v":0},{"p":116,"f":345.3178,"v":4},{"p":116,"f":345.3181,"v":18},{"p":116,"f":345.3184,"v":54},{"p":116,"f":345.3187,"v":130},{"p":116,"f":345.319,"v":243},{"p":116,"f":345.3193,"v":353},{"p":116,"f":345.3196,"v":400},{"p":116,"f":345.3199,"v":353},{"p":116,"f":345.3202,"v":243},{"p":116,"f":345.3205,"v":130},{"p":116,"f":345.3208,"v":54},{"p":116,"f":345.3211,"v":18},{"p":116,"f":345.3214,"v":4},{"p":116,"f":345.322,"v":0},{"p":116,"f":345.3494,"v":0},
{"p":117,"f":362.4961,"v":0},{"p":117,"f":362.523,"v":0},{"p":117,"f":362.5236,"v":4},{"p":117,"f":362.5239,"v":14},{"p":117,"f":362.5242,"v":44},{"p":117,"f":362.5245,"v":106},{"p":117,"f":362.5248,"v":197},{"p":117,"f":362.5251,"v":287},{"p":117,"f":362.5254,"v":325},{"p":117,"f":362.5257,"v":287},{"p":117,"f":362.526,"v":197},{"p":117,"f":362.5263,"v":106},{"p":117,"f":362.5266,"v":44},{"p":117,"f":362.5269,"v":14},{"p":117,"f":362.5272,"v":4},{"p":117,"f":362.5278,"v":0},{"p":117,"f":362.5555,"v":0}
]
},
"concat":[
{"width":198,"height":122,"title":{"text":"55","dx":31},"resolve":{"axis":{"x":"independent","y":"independent"}},"layer":[
 {"data":{"name":"obs"},"transform":[{"filter":"datum.p==55"}],"mark":{"type":"line","interpolate":"step","color":"#000","strokeWidth":1.3,"clip":true},
  "encoding":{"x":{"field":"f","type":"quantitative","scale":{"domain":[349.8539,349.9133],"nice":false,"zero":false},"axis":{"orient":"bottom","title":null}},
   "y":{"field":"v","type":"quantitative","scale":{"domain":[-120,620],"nice":false,"zero":false},"axis":{"orient":"left","title":null}}}},
 {"data":{"name":"fit"},"transform":[{"filter":"datum.p==55"}],"mark":{"type":"line","interpolate":"monotone","color":"#ff0000","strokeWidth":1.6,"clip":true},
  "encoding":{"x":{"field":"f","type":"quantitative","axis":{"orient":"top","labels":false,"title":null}},"y":{"field":"v","type":"quantitative","axis":{"orient":"right","labels":false,"title":null}}}}]},
{"width":198,"height":122,"title":{"text":"70","dx":31},"resolve":{"axis":{"x":"independent","y":"independent"}},"layer":[
 {"data":{"name":"obs"},"transform":[{"filter":"datum.p==70"}],"mark":{"type":"line","interpolate":"step","color":"#000","strokeWidth":1.3,"clip":true},
  "encoding":{"x":{"field":"f","type":"quantitative","scale":{"domain":[330.977,331.0364],"nice":false,"zero":false},"axis":{"orient":"bottom","title":null}},
   "y":{"field":"v","type":"quantitative","scale":{"domain":[-120,620],"nice":false,"zero":false},"axis":{"orient":"left","labels":false,"title":null}}}},
 {"data":{"name":"fit"},"transform":[{"filter":"datum.p==70"}],"mark":{"type":"line","interpolate":"monotone","color":"#ff0000","strokeWidth":1.6,"clip":true},
  "encoding":{"x":{"field":"f","type":"quantitative","axis":{"orient":"top","labels":false,"title":null}},"y":{"field":"v","type":"quantitative","axis":{"orient":"right","labels":false,"title":null}}}}]},
{"width":198,"height":122,"title":{"text":"83","dx":31},"resolve":{"axis":{"x":"independent","y":"independent"}},"layer":[
 {"data":{"name":"obs"},"transform":[{"filter":"datum.p==83"}],"mark":{"type":"line","interpolate":"step","color":"#000","strokeWidth":1.3,"clip":true},
  "encoding":{"x":{"field":"f","type":"quantitative","scale":{"domain":[335.0597,335.1191],"nice":false,"zero":false},"axis":{"orient":"bottom","title":null}},
   "y":{"field":"v","type":"quantitative","scale":{"domain":[-120,620],"nice":false,"zero":false},"axis":{"orient":"left","title":"I [mJy beam⁻¹]","titleX":-43,"titleY":161,"titleAlign":"center","titleBaseline":"middle","titleAngle":270}}}},
 {"data":{"name":"fit"},"transform":[{"filter":"datum.p==83"}],"mark":{"type":"line","interpolate":"monotone","color":"#ff0000","strokeWidth":1.6,"clip":true},
  "encoding":{"x":{"field":"f","type":"quantitative","axis":{"orient":"top","labels":false,"title":null}},"y":{"field":"v","type":"quantitative","axis":{"orient":"right","labels":false,"title":null}}}}]},
{"width":198,"height":122,"title":{"text":"95","dx":31},"resolve":{"axis":{"x":"independent","y":"independent"}},"layer":[
 {"data":{"name":"obs"},"transform":[{"filter":"datum.p==95"}],"mark":{"type":"line","interpolate":"step","color":"#000","strokeWidth":1.3,"clip":true},
  "encoding":{"x":{"field":"f","type":"quantitative","scale":{"domain":[361.7668,361.8262],"nice":false,"zero":false},"axis":{"orient":"bottom","title":null,"labelExpr":"abs(datum.value*50-0.5-round(datum.value*50-0.5))<0.001 ? format(datum.value,'.2f') : ''"}},
   "y":{"field":"v","type":"quantitative","scale":{"domain":[-120,620],"nice":false,"zero":false},"axis":{"orient":"left","labels":false,"title":null}}}},
 {"data":{"name":"fit"},"transform":[{"filter":"datum.p==95"}],"mark":{"type":"line","interpolate":"monotone","color":"#ff0000","strokeWidth":1.6,"clip":true},
  "encoding":{"x":{"field":"f","type":"quantitative","axis":{"orient":"top","labels":false,"title":null}},"y":{"field":"v","type":"quantitative","axis":{"orient":"right","labels":false,"title":null}}}}]},
{"width":198,"height":122,"title":{"text":"99","dx":31},"resolve":{"axis":{"x":"independent","y":"independent"}},"layer":[
 {"data":{"name":"obs"},"transform":[{"filter":"datum.p==99"}],"mark":{"type":"line","interpolate":"step","color":"#000","strokeWidth":1.3,"clip":true},
  "encoding":{"x":{"field":"f","type":"quantitative","scale":{"domain":[339.8303,339.8897],"nice":false,"zero":false},"axis":{"orient":"bottom","title":null}},
   "y":{"field":"v","type":"quantitative","scale":{"domain":[-120,620],"nice":false,"zero":false},"axis":{"orient":"left","title":null}}}},
 {"data":{"name":"fit"},"transform":[{"filter":"datum.p==99"}],"mark":{"type":"line","interpolate":"monotone","color":"#ff0000","strokeWidth":1.6,"clip":true},
  "encoding":{"x":{"field":"f","type":"quantitative","axis":{"orient":"top","labels":false,"title":null}},"y":{"field":"v","type":"quantitative","axis":{"orient":"right","labels":false,"title":null}}}}]},
{"width":198,"height":122,"title":{"text":"100","dx":24},"resolve":{"axis":{"x":"independent","y":"independent"}},"layer":[
 {"data":{"name":"obs"},"transform":[{"filter":"datum.p==100"}],"mark":{"type":"line","interpolate":"step","color":"#000","strokeWidth":1.3,"clip":true},
  "encoding":{"x":{"field":"f","type":"quantitative","scale":{"domain":[357.0364,357.0958],"nice":false,"zero":false},"axis":{"orient":"bottom","title":null}},
   "y":{"field":"v","type":"quantitative","scale":{"domain":[-120,620],"nice":false,"zero":false},"axis":{"orient":"left","labels":false,"title":null}}}},
 {"data":{"name":"fit"},"transform":[{"filter":"datum.p==100"}],"mark":{"type":"line","interpolate":"monotone","color":"#ff0000","strokeWidth":1.6,"clip":true},
  "encoding":{"x":{"field":"f","type":"quantitative","axis":{"orient":"top","labels":false,"title":null}},"y":{"field":"v","type":"quantitative","axis":{"orient":"right","labels":false,"title":null}}}}]},
{"width":198,"height":122,"title":{"text":"116","dx":24},"resolve":{"axis":{"x":"independent","y":"independent"}},"layer":[
 {"data":{"name":"obs"},"transform":[{"filter":"datum.p==116"}],"mark":{"type":"line","interpolate":"step","color":"#000","strokeWidth":1.3,"clip":true},
  "encoding":{"x":{"field":"f","type":"quantitative","scale":{"domain":[345.2899,345.3494],"nice":false,"zero":false},"axis":{"orient":"bottom","title":"Freq. [GHz]","titleX":208,"titleY":48,"titleAlign":"center","titleBaseline":"alphabetic","labelExpr":"abs(datum.value*50-0.5-round(datum.value*50-0.5))<0.001 ? format(datum.value,'.2f') : ''"}},
   "y":{"field":"v","type":"quantitative","scale":{"domain":[-120,620],"nice":false,"zero":false},"axis":{"orient":"left","title":null}}}},
 {"data":{"name":"fit"},"transform":[{"filter":"datum.p==116"}],"mark":{"type":"line","interpolate":"monotone","color":"#ff0000","strokeWidth":1.6,"clip":true},
  "encoding":{"x":{"field":"f","type":"quantitative","axis":{"orient":"top","labels":false,"title":null}},"y":{"field":"v","type":"quantitative","axis":{"orient":"right","labels":false,"title":null}}}}]},
{"width":198,"height":122,"title":{"text":"117","dx":24},"resolve":{"axis":{"x":"independent","y":"independent"}},"layer":[
 {"data":{"name":"obs"},"transform":[{"filter":"datum.p==117"}],"mark":{"type":"line","interpolate":"step","color":"#000","strokeWidth":1.3,"clip":true},
  "encoding":{"x":{"field":"f","type":"quantitative","scale":{"domain":[362.4961,362.5555],"nice":false,"zero":false},"axis":{"orient":"bottom","title":null}},
   "y":{"field":"v","type":"quantitative","scale":{"domain":[-120,620],"nice":false,"zero":false},"axis":{"orient":"left","labels":false,"title":null}}}},
 {"data":{"name":"fit"},"transform":[{"filter":"datum.p==117"}],"mark":{"type":"line","interpolate":"monotone","color":"#ff0000","strokeWidth":1.6,"clip":true},
  "encoding":{"x":{"field":"f","type":"quantitative","axis":{"orient":"top","labels":false,"title":null}},"y":{"field":"v","type":"quantitative","axis":{"orient":"right","labels":false,"title":null}}}}]}
],
"config":{
 "view":{"stroke":"#000","strokeWidth":1},
 "title":{"anchor":"start","frame":"group","offset":-19.5,"baseline":"alphabetic","font":"Liberation Sans","fontSize":14,"fontWeight":"normal","color":"#000"},
 "axis":{"domain":false,"grid":false,"ticks":true,"tickColor":"#000","tickWidth":1,"tickOpacity":1,"tickSize":3.5,"labelFont":"Liberation Sans","labelFontWeight":"bold","labelFontSize":10.5,"labelColor":"#000","labelOverlap":false,"titleColor":"#000","titleFont":"DejaVu Sans","titleFontSize":18,"titleFontWeight":"normal"},
 "axisX":{"tickCount":30,"labelFlush":false,"labelOffset":-5,"labelPadding":6.5,"labelExpr":"abs(datum.value*50-round(datum.value*50))<0.001 ? format(datum.value,'.2f') : ''"},
 "axisY":{"tickCount":15,"labelPadding":2.5,"labelExpr":"datum.value % 200 === 0 ? datum.label : ''"}
}
}
